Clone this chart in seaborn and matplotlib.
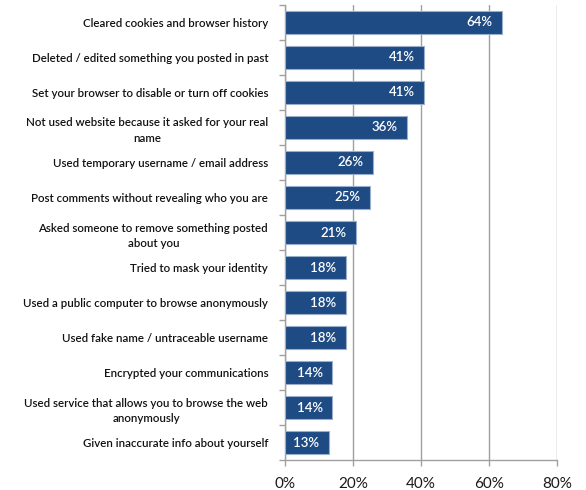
import matplotlib
matplotlib.use("Agg")
import matplotlib.pyplot as plt
import seaborn as sns
import pandas as pd
import numpy as np
from matplotlib.ticker import FixedLocator, PercentFormatter

categories = [
    "Cleared cookies and browser history",
    "Deleted / edited something you posted in past",
    "Set your browser to disable or turn off cookies",
    "Not used website because it asked for your real\nname",
    "Used temporary username / email address",
    "Post comments without revealing who you are",
    "Asked someone to remove something posted\nabout you",
    "Tried to mask your identity",
    "Used a public computer to browse anonymously",
    "Used fake name / untraceable username",
    "Encrypted your communications",
    "Used service that allows you to browse the web\nanonymously",
    "Given inaccurate info about yourself",
]
values = [64, 41, 41, 36, 26, 25, 21, 18, 18, 18, 14, 14, 13]
x_ticks = [0, 20, 40, 60, 80]

df = pd.DataFrame({"category": categories, "value": values})

sns.set_theme(style="white")
plt.rcParams["font.family"] = ["Lato", "DejaVu Sans"]

fig = plt.figure(figsize=(5.86, 4.90), dpi=100)
ax = fig.add_axes([0.486, 0.061, 0.464, 0.929])

sns.barplot(data=df, y="category", x="value", orient="h", color="#1F4B84",
            saturation=1, width=0.66, edgecolor="#9AAECB", linewidth=0.8,
            ax=ax, zorder=3)

ax.set_xlim(0, 80)
ax.set_ylim(len(categories) - 0.5, -0.5)
ax.set_xticks(x_ticks)
ax.xaxis.set_major_formatter(PercentFormatter(decimals=0))
ax.grid(axis="x", color="#A0A0A0", linewidth=1.0, zorder=0)
ax.set_axisbelow(True)
ax.set_xlabel("")
ax.set_ylabel("")

for s in ["top", "right"]:
    ax.spines[s].set_visible(False)
for s in ["left", "bottom"]:
    ax.spines[s].set_color("#A0A0A0")
    ax.spines[s].set_linewidth(1.0)

ax.tick_params(axis="y", which="major", length=0, labelsize=8.3, pad=12, labelcolor="#111111")
ax.yaxis.set_minor_locator(FixedLocator(np.arange(-0.5, len(categories) + 0.5, 1)))
ax.tick_params(axis="y", which="minor", length=4, color="#A0A0A0", width=1, left=True)
ax.tick_params(axis="x", which="major", length=4, color="#A0A0A0", width=1, bottom=True,
               labelsize=11, pad=8, labelcolor="#1A1A1A")
for lbl in ax.get_yticklabels():
    lbl.set_multialignment("center")
    lbl.set_linespacing(1.45)
    lbl.set_fontweight("semibold")

for i, v in enumerate(values):
    ax.annotate(f"{v}%", xy=(v, i), xytext=(-7, 0), textcoords="offset points",
                ha="right", va="center", color="white", fontsize=9.5,
                fontweight="semibold", zorder=4)

fig.savefig("out.png", dpi=100)
